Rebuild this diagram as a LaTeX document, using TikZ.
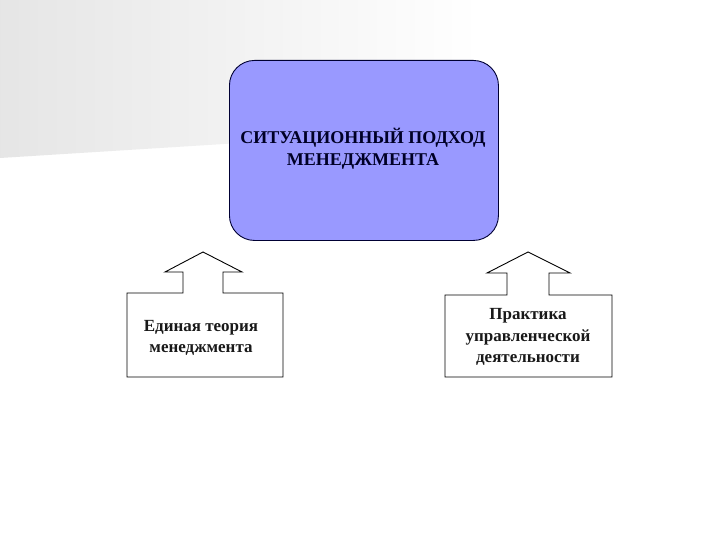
\documentclass[tikz,border=0pt]{standalone}
\usepackage{fontspec}
\setmainfont{Liberation Serif}
\begin{document}
\begin{tikzpicture}[x=1pt,y=-1pt,
  callout/.style={draw=black,line width=0.9pt,fill=white,line join=miter},
  smalltext/.style={font=\bfseries\fontsize{17}{21.5}\selectfont,align=center,text=black!90},
  titletext/.style={font=\bfseries\fontsize{18}{22}\selectfont,align=center,text=black!85!blue}]
\useasboundingbox (0,0) rectangle (720,540);
\fill[white] (0,0) rectangle (720,540);
% faint background
\shade[left color=black!10,right color=white,shading angle=90] (0,0) -- (480,0) -- (480,128) -- (0,158) -- cycle;
% main box
\node[draw=black!80!blue,line width=0.9pt,fill={rgb,255:red,153;green,153;blue,255},rounded corners=25pt,
  minimum width=269pt,minimum height=180pt,anchor=north west] (main) at (229,60) {};
\node[titletext] (title) at (363,149) {СИТУАЦИОННЫЙ ПОДХОД\\МЕНЕДЖМЕНТА};
% left callout
\draw[callout] (127,293) -- (183,293) -- (183,272) -- (165,272) -- (203,252) -- (242,272) -- (223,272) -- (223,293) -- (283,293) -- (283,377) -- (127,377) -- cycle;
\node[smalltext] (left) at (201,338) {Единая теория\\менеджмента};
% right callout
\draw[callout] (445,295) -- (507,295) -- (507,273) -- (487,273) -- (528,252) -- (570,273) -- (549,273) -- (549,295) -- (612,295) -- (612,377) -- (445,377) -- cycle;
\node[smalltext] (right) at (528,337) {Практика\\управленческой\\деятельности};
\end{tikzpicture}
\end{document}
